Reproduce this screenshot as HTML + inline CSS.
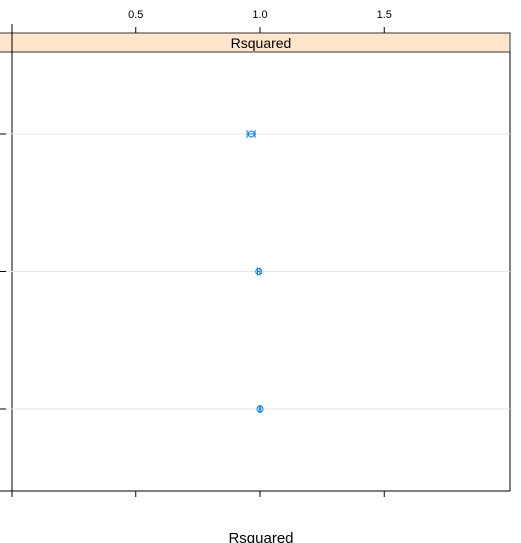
<!DOCTYPE html>
<html><head><meta charset="utf-8"><style>body{margin:0;background:#fff}svg{display:block}text{font-family:"Liberation Sans",sans-serif}</style></head>
<body>
<svg width="521" height="543" viewBox="0 0 521 543" id="c">
<rect x="-1" y="33" width="511" height="19" fill="#ffe5cc" stroke="#333" stroke-width="1"/>
<text x="261" y="48" font-size="14" text-anchor="middle" fill="#000">Rsquared</text>
<line x1="12" y1="24" x2="12" y2="497" stroke="#000"/>
<line x1="510" y1="52" x2="510" y2="491" stroke="#000"/>
<line x1="0" y1="491" x2="510" y2="491" stroke="#000"/>
<text x="261" y="543" font-size="15" text-anchor="middle">Rsquared</text>
<g id="g"></g>
</svg>
<script>
const ticks=[0.5,1.0,1.5];
const tickLabels=["0.5","1.0","1.5"];
const rows=[0,1,2];
const centers=[0.965,0.995,1.0];
const lows=[0.948,0.99,0.997];
const highs=[0.98,1.0,1.003];
const x=v=>11.5+v*248.5;
const y=i=>134+i*137.5;
const g=document.getElementById('g');
const ns='http://www.w3.org/2000/svg';
function mk(t,a){const e=document.createElementNS(ns,t);for(const k in a)e.setAttribute(k,a[k]);g.appendChild(e);return e;}
ticks.forEach((t,i)=>{
 let l=mk('line',{x1:x(t),x2:x(t),y1:27,y2:33,stroke:'#000'});
 
 
 let b=mk('line',{x1:x(t),x2:x(t),y1:491,y2:497,stroke:'#000'});
 
 
 let tx=mk('text',{x:x(t),y:18,'font-size':11,'text-anchor':'middle'});
 tx.textContent=tickLabels[i];
 
 
});
rows.forEach((r,i)=>{
 let gl=mk('line',{x1:0,x2:510,y1:y(r),y2:y(r),stroke:'#e6e6e6'});
 
 
 let lt=mk('line',{x1:0,x2:6,y1:y(r),y2:y(r),stroke:'#000'});
 
 
 let e=mk('line',{x1:x(lows[i]),x2:x(highs[i]),y1:y(r),y2:y(r),stroke:'#0080ff'});
 
 
 [lows[i],highs[i]].forEach(v=>{let c=mk('line',{x1:x(v),x2:x(v),y1:y(r)-4,y2:y(r)+4,stroke:'#0080ff'});
 
 });
 let p=mk('circle',{cx:x(centers[i]),cy:y(r),r:3,fill:'none',stroke:'#0080ff'});
 
 
});
</script>
</body></html>
